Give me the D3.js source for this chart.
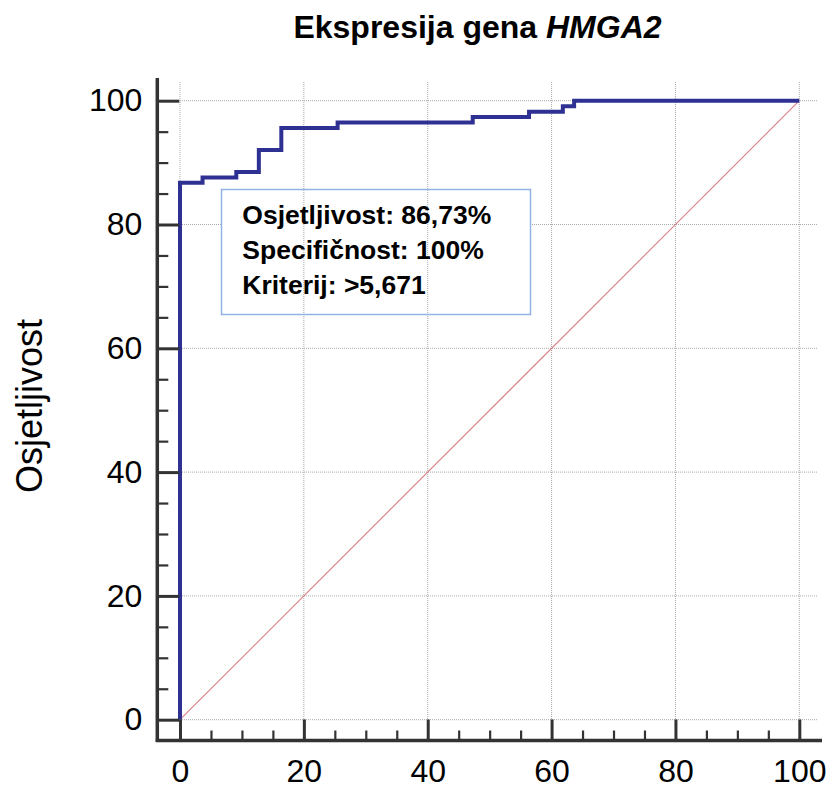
<!DOCTYPE html>
<html>
<head>
<meta charset="utf-8">
<script src="https://cdn.jsdelivr.net/npm/d3@7"></script>
<style>
  html, body { margin: 0; padding: 0; background: #fff; }
  svg { display: block; }
  text { font-family: "Liberation Sans", Arial, sans-serif; fill: #000; }
</style>
</head>
<body>
<svg id="chart" width="830" height="789"></svg>
<script>
// ROC curve vertices (1 - specificity %, sensitivity %), drawn as steps
const fprValues = [0, 0, 3.64, 9.09, 12.73, 16.36, 25.45, 47.27, 56.36, 61.82, 63.64, 100];
const tprValues = [0, 86.73, 87.61, 88.50, 92.04, 95.58, 96.46, 97.35, 98.23, 99.12, 100, 100];
// reference (chance) diagonal
const diagX = [0, 100];
const diagY = [0, 100];
const majorTicks = [0, 20, 40, 60, 80, 100];
const minorTicks = [5, 10, 15, 25, 30, 35, 45, 50, 55, 65, 70, 75, 85, 90, 95];
const titleMain = "Ekspresija gena ";
const titleGene = "HMGA2";
const yLabel = "Osjetljivost";
const infoLines = ["Osjetljivost: 86,73%", "Specifičnost: 100%", "Kriterij: >5,671"];

const svg = d3.select("#chart");
const x = d3.scaleLinear().domain([0, 100]).range([180, 799.3]);
const y = d3.scaleLinear().domain([0, 100]).range([719.7, 100.7]);

const gridColor = "#a8a8a8";

// horizontal gridlines
svg.append("g").selectAll("line").data(majorTicks).join("line")
  .attr("x1", x(0)).attr("x2", 818)
  .attr("y1", d => y(d)).attr("y2", d => y(d))
  .attr("stroke", gridColor).attr("stroke-width", 1)
  .attr("stroke-dasharray", "1,1");

// info box background
const box = { x0: 221.5, y0: 189.5, x1: 530.5, y1: 314.5 };
svg.append("rect")
  .attr("x", box.x0).attr("y", box.y0)
  .attr("width", box.x1 - box.x0).attr("height", box.y1 - box.y0)
  .attr("fill", "#fff");

// vertical gridlines
svg.append("g").selectAll("line").data(majorTicks).join("line")
  .attr("x1", d => x(d)).attr("x2", d => x(d))
  .attr("y1", 82).attr("y2", y(0))
  .attr("stroke", gridColor).attr("stroke-width", 1)
  .attr("stroke-dasharray", "1,1");

// box border
svg.append("rect")
  .attr("x", box.x0).attr("y", box.y0)
  .attr("width", box.x1 - box.x0).attr("height", box.y1 - box.y0)
  .attr("fill", "none").attr("stroke", "#8fb3e3").attr("stroke-width", 1.5);

// diagonal
svg.append("line")
  .attr("x1", x(diagX[0])).attr("y1", y(diagY[0]))
  .attr("x2", x(diagX[1])).attr("y2", y(diagY[1]))
  .attr("stroke", "#d98080").attr("stroke-width", 1.1);

// ROC curve
const rocData = fprValues.map((v, i) => [v, tprValues[i]]);
svg.append("path")
  .datum(rocData)
  .attr("fill", "none")
  .attr("stroke", "#2e3192")
  .attr("stroke-width", 4)
  .attr("stroke-linejoin", "miter")
  .attr("d", d3.line().x(d => x(d[0])).y(d => y(d[1])).curve(d3.curveStepAfter));

// axes
const axisColor = "#333";
const bottomY = 740.5, leftX = 157.3;

const xMajor = d3.axisBottom(x).tickValues(majorTicks).tickSizeInner(-21).tickSizeOuter(0).tickPadding(19)
  .tickFormat(d3.format("d"));
const gx = svg.append("g").attr("transform", `translate(0,${bottomY})`).call(xMajor);
const xMinor = d3.axisBottom(x).tickValues(minorTicks).tickSizeInner(-10).tickSizeOuter(0).tickFormat("");
const gxm = svg.append("g").attr("transform", `translate(0,${bottomY})`).call(xMinor);

const yMajor = d3.axisLeft(y).tickValues(majorTicks).tickSizeInner(-22).tickSizeOuter(0).tickPadding(15)
  .tickFormat(d3.format("d"));
const gy = svg.append("g").attr("transform", `translate(${leftX},0)`).call(yMajor);
const yMinor = d3.axisLeft(y).tickValues(minorTicks).tickSizeInner(-11).tickSizeOuter(0).tickFormat("");
const gym = svg.append("g").attr("transform", `translate(${leftX},0)`).call(yMinor);

[gx, gxm, gy, gym].forEach(g => {
  g.select(".domain").remove();
  g.selectAll(".tick line").attr("stroke", axisColor);
  g.selectAll(".tick text").attr("fill", "#000").style("font-size", "32px")
    .style("font-family", '"Liberation Sans", Arial, sans-serif');
});
[gx, gy].forEach(g => g.selectAll(".tick line").attr("stroke-width", 3));
[gxm, gym].forEach(g => g.selectAll(".tick line").attr("stroke-width", 2.2));

// axis lines
svg.append("line").attr("x1", leftX).attr("x2", leftX).attr("y1", 78).attr("y2", bottomY + 1.5)
  .attr("stroke", axisColor).attr("stroke-width", 3.5);
svg.append("line").attr("x1", leftX - 1.5).attr("x2", 822).attr("y1", bottomY).attr("y2", bottomY)
  .attr("stroke", axisColor).attr("stroke-width", 3.5);

// title
const title = svg.append("text")
  .attr("x", 477.5).attr("y", 38.3)
  .attr("text-anchor", "middle")
  .style("font-size", "32px").style("font-weight", "bold");
title.append("tspan").text(titleMain);
title.append("tspan").style("font-style", "italic").text(titleGene);

// y label
svg.append("text")
  .attr("transform", "translate(41.5,406) rotate(-90)")
  .attr("text-anchor", "middle")
  .style("font-size", "36px")
  .text(yLabel);

// info text
svg.append("g").selectAll("text").data(infoLines).join("text")
  .attr("x", 242.3)
  .attr("y", (d, i) => 224 + i * 35)
  .style("font-size", "26.5px").style("font-weight", "bold")
  .text(d => d);
</script>
</body>
</html>
